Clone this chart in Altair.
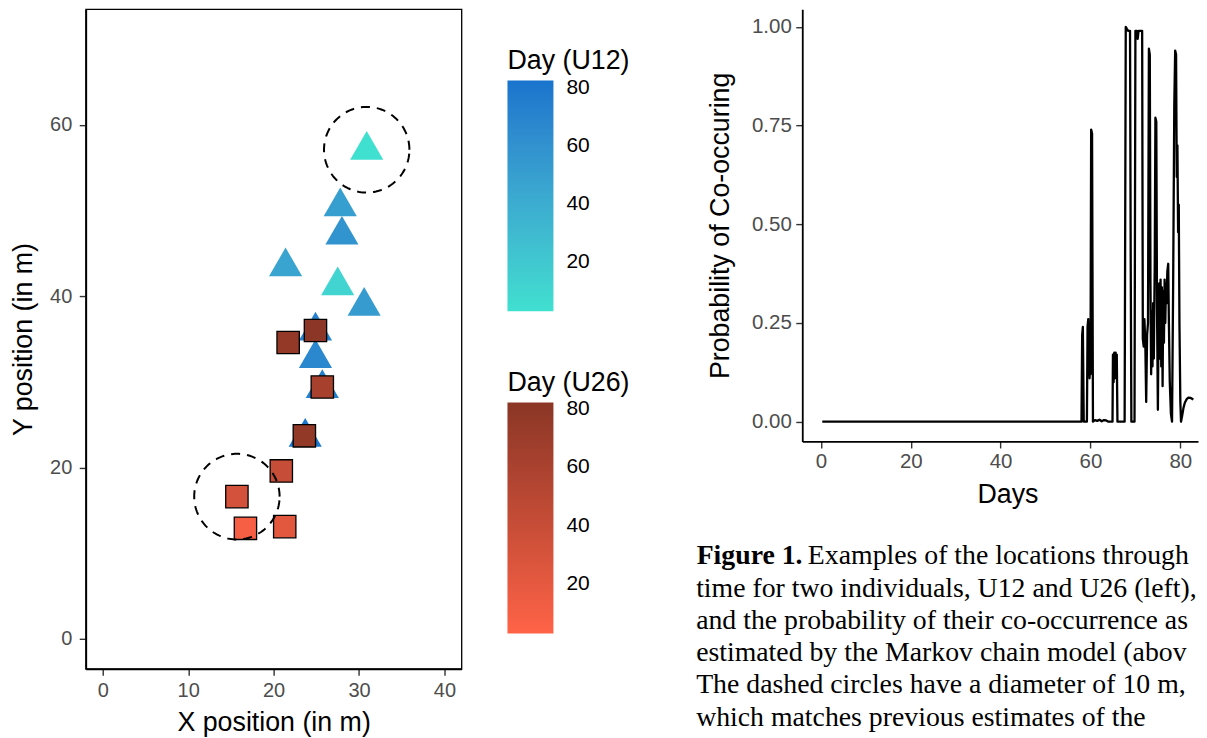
import altair as alt
import numpy as np
import pandas as pd

# ---------------- Left panel: locations through time ----------------
# U12 (triangles)
u12_x = [30.9, 27.8, 28.0, 21.4, 27.5, 30.6, 24.9, 24.9, 25.7, 23.7]
u12_y = [57.6, 51.0, 47.7, 44.0, 41.8, 39.4, 36.5, 33.3, 29.8, 24.1]
u12_day = [3, 50, 58, 46, 12, 53, 72, 67, 74, 80]

# U26 (squares)
u26_x = [16.7, 21.3, 15.7, 20.9, 25.7, 23.6, 21.7, 24.9]
u26_y = [12.9, 13.1, 16.6, 19.6, 29.4, 23.7, 34.6, 36.0]
u26_day = [9, 22, 32, 41, 62, 77, 76, 82]

# dashed circles (diameter 10 m)
circle_cx = [30.9, 15.7]
circle_cy = [57.1, 16.6]
circle_r = 5.0

left_x_ticks = [0, 10, 20, 30, 40]
left_y_ticks = [0, 20, 40, 60]
legend_ticks = [20, 40, 60, 80]

# ---------------- Right panel: probability of co-occurring ----------------
prob_day = [0.3, 58.0, 58.15, 58.3, 58.5, 59.2, 59.35, 59.5, 59.6, 59.7, 59.8, 59.9,
            60.0, 60.15, 60.35, 60.55, 61.0, 61.5, 62.0, 62.5, 63.0, 63.5, 64.0, 64.9,
            65.0, 65.15, 65.3, 65.45, 65.6, 65.75, 65.85, 66.0, 67.6, 67.85, 68.1, 68.4,
            68.8, 68.95, 69.1, 69.8, 70.0, 70.3, 70.5, 70.7, 71.1, 71.5, 71.65, 71.85,
            72.0, 72.2, 72.4, 72.6, 72.8, 73.0, 73.2, 73.35, 73.5, 73.65, 73.8, 73.95,
            74.1, 74.3, 74.45, 74.65, 74.8, 75.0, 75.15, 75.3, 75.45, 75.6, 75.75, 75.9,
            76.05, 76.2, 76.35, 76.5, 76.65, 76.8, 76.95, 77.1, 77.3, 77.45, 77.65, 77.9,
            78.15, 78.4, 78.65, 78.85, 79.05, 79.2, 79.35, 79.5, 79.65, 79.8, 80.0, 80.15,
            80.4, 80.7, 81.0, 81.4, 81.8, 82.3, 82.9]
prob_val = [0.0, 0.0, 0.22, 0.24, 0.0, 0.0, 0.24, 0.26, 0.12, 0.25, 0.11, 0.22,
            0.12, 0.74, 0.73, 0.0, 0.004, 0.002, 0.005, 0.001, 0.004, 0.003, 0.0, 0.0,
            0.17, 0.10, 0.175, 0.11, 0.175, 0.12, 0.17, 0.0, 0.0, 1.0, 0.995, 0.99,
            0.99, 0.42, 0.0, 0.0, 0.99, 0.99, 0.97, 0.99, 0.99, 0.99, 0.21, 0.19,
            0.26, 0.20, 0.05, 0.22, 0.25, 0.945, 0.93, 0.35, 0.12, 0.28, 0.14, 0.30,
            0.16, 0.40, 0.77, 0.76, 0.30, 0.03, 0.27, 0.35, 0.16, 0.36, 0.14, 0.34,
            0.09, 0.33, 0.20, 0.36, 0.25, 0.35, 0.30, 0.38, 0.40, 0.25, 0.10, 0.02,
            0.0, 0.35, 0.80, 0.94, 0.93, 0.62, 0.70, 0.48, 0.55, 0.25, 0.05, 0.0,
            0.015, 0.035, 0.048, 0.057, 0.061, 0.060, 0.056]

right_x_ticks = [0, 20, 40, 60, 80]
right_y_ticks = [0.0, 0.25, 0.5, 0.75, 1.0]

caption_bold = "Figure 1."
caption_first = "Examples of the locations through"
caption_rest = [
    "time for two individuals, U12 and U26 (left),",
    "and the probability of their co-occurrence as",
    "estimated by the Markov chain model (above).",
    "The dashed circles have a diameter of 10 m,",
    "which matches previous estimates of the",
]

# ---------------- Build tables ----------------
df12 = pd.DataFrame({"x": u12_x, "y": u12_y, "day12": u12_day})
df26 = pd.DataFrame({"x": u26_x, "y": u26_y, "day26": u26_day})

theta = np.linspace(0, 2 * np.pi, 145)
circ_rows = []
for i, (cx, cy) in enumerate(zip(circle_cx, circle_cy)):
    for k, t in enumerate(theta):
        circ_rows.append({"cid": i, "k": k,
                          "x": cx + circle_r * np.cos(t),
                          "y": cy + circle_r * np.sin(t)})
dfc = pd.DataFrame(circ_rows)

dfp = pd.DataFrame({"day": prob_day, "p": prob_val})

FONT = "Liberation Sans"
SERIF = "Liberation Serif"
TITLE_SIZE = 26.8

xs = alt.Scale(domain=[-2, 42], nice=False, zero=False)
ys = alt.Scale(domain=[-3.5, 73.5], nice=False, zero=False)

x_axis_left = alt.Axis(values=left_x_ticks, title="X position (in m)", labelFontSize=20,
                       labelPadding=5, titlePadding=9, tickSize=6.5)
y_axis_left = alt.Axis(values=left_y_ticks, title="Y position (in m)", labelFontSize=20,
                       labelPadding=7.5, titlePadding=12.5, tickSize=6.5)

legend_common = dict(orient="none", direction="vertical", values=legend_ticks,
                     gradientLength=231, gradientThickness=46, labelOffset=13,
                     titlePadding=6, legendX=422)

tri = alt.Chart(df12).mark_point(
    shape="triangle-up", filled=True, size=1100, opacity=1, strokeWidth=0
).encode(
    x=alt.X("x:Q", scale=xs, axis=x_axis_left),
    y=alt.Y("y:Q", scale=ys, axis=y_axis_left),
    color=alt.Color("day12:Q",
                    scale=alt.Scale(domain=[3.2, 82.5], range=["#40E0D0", "#1874CD"],
                                    interpolate="lab"),
                    legend=alt.Legend(title="Day (U12)", legendY=38.5, **legend_common)),
)

sq = alt.Chart(df26).mark_square(
    size=500, opacity=1, stroke="black", strokeWidth=1.3
).encode(
    x=alt.X("x:Q", scale=xs),
    y=alt.Y("y:Q", scale=ys),
    color=alt.Color("day26:Q",
                    scale=alt.Scale(domain=[3.0, 82.2], range=["#FF6347", "#8B3626"],
                                    interpolate="lab"),
                    legend=alt.Legend(title="Day (U26)", legendY=360.8, **legend_common)),
)

circ = alt.Chart(dfc).mark_line(
    color="black", strokeDash=[9, 7], strokeWidth=2
).encode(
    x=alt.X("x:Q", scale=xs),
    y=alt.Y("y:Q", scale=ys),
    detail="cid:N",
    order="k:Q",
)

left = alt.layer(tri, sq, circ).resolve_scale(color="independent").properties(
    width=376, height=660,
    view=alt.ViewBackground(stroke="black", strokeWidth=1.3),
)

# ---------------- Right panel ----------------
line = alt.Chart(dfp).mark_line(color="black", strokeWidth=2.3, strokeJoin="round").encode(
    x=alt.X("day:Q", scale=alt.Scale(domain=[-4.15, 83.93], nice=False, zero=False),
            axis=alt.Axis(values=right_x_ticks, title="Days", labelFontSize=20.5,
                          labelPadding=4, titlePadding=9, titleX=205.3, tickSize=6.5)),
    y=alt.Y("p:Q", scale=alt.Scale(domain=[-0.0501, 1.0448], nice=False, zero=False),
            axis=alt.Axis(values=right_y_ticks, format=".2f",
                          title="Probability of Co-occuring", labelFontSize=20.5,
                          labelPadding=4.5, titlePadding=16.5, tickSize=6.5)),
)

one = pd.DataFrame({"k": [0]})
CAP = dict(font=SERIF, fontSize=27.8, align="left", baseline="alphabetic", color="black",
           ellipsis="\u200b")
cap_bold = alt.Chart(one).mark_text(fontWeight="bold", **CAP).encode(
    text=alt.value(caption_bold), x=alt.value(-105.7), y=alt.value(555.5))

cap_first = alt.Chart(one).mark_text(limit=390, **CAP).encode(
    text=alt.value(caption_first), x=alt.value(5.6), y=alt.value(555.5))

cap_rest = alt.Chart(one).mark_text(lineHeight=32.1, limit=502.5, **CAP).encode(
    text=alt.value(caption_rest), x=alt.value(-106.2), y=alt.value(588.4))

right = alt.layer(line, cap_bold, cap_first, cap_rest).properties(width=396, height=432.5)

chart = alt.hconcat(left, right, spacing=64).resolve_scale(color="independent").properties(
    padding={"left": 0.8, "top": 0, "right": 0, "bottom": 0}
).configure_view(
    stroke="transparent"
).configure_axis(
    grid=False, domainColor="black", domainWidth=1.8, tickColor="#333333", tickWidth=1.4,
    labelColor="#4D4D4D", labelFont=FONT, titleFont=FONT, titleColor="black",
    titleFontWeight="normal", titleFontSize=TITLE_SIZE
).configure_legend(
    titleFont=FONT, titleFontSize=TITLE_SIZE, titleFontWeight="normal", titleColor="black",
    labelFont=FONT, labelFontSize=21, labelColor="black", gradientStrokeWidth=0
)

chart.save("out.html", embed_options={"renderer": "svg", "actions": False})
